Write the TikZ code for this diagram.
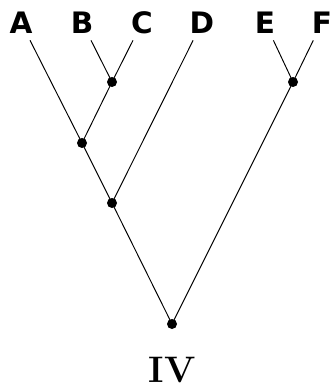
\documentclass[tikz,border=0pt]{standalone}
\usepackage{fontspec}
\newfontfamily\dejavu{DejaVu Sans}
\usepackage{tikz}
\usetikzlibrary{positioning}

\begin{document}
\begin{tikzpicture}[
    taxon/.style={rectangle, inner sep=0pt, minimum height=0.7cm, font=\dejavu\bfseries\fontsize{16.8}{18}\selectfont},
    split/.style={circle, fill=black, inner sep=0pt, minimum size=0.2cm},
    branch/.style={line width=0.55pt},
    tag/.style={font=\bfseries\fontsize{21}{24}\selectfont}
]
    \useasboundingbox (0,0) rectangle (6.62,-7.74);

    \node[taxon] (A) at (0.42,-0.45) {A};
    \node[taxon] (B) at (1.64,-0.45) {B};
    \node[taxon] (C) at (2.84,-0.45) {C};
    \node[taxon] (D) at (4.04,-0.45) {D};
    \node[taxon] (E) at (5.30,-0.45) {E};
    \node[taxon] (F) at (6.44,-0.45) {F};

    \node[split] (bc) at (2.24,-1.64) {};
    \node[split] (ef) at (5.86,-1.64) {};
    \node[split] (abc) at (1.64,-2.86) {};
    \node[split] (abcd) at (2.24,-4.06) {};
    \node[split] (root) at (3.44,-6.48) {};

    \node[tag] (label) at (3.44,-7.41) {IV};

    \draw[branch] (B) -- (bc.center);
    \draw[branch] (C) -- (bc.center);
    \draw[branch] (E) -- (ef.center);
    \draw[branch] (F) -- (ef.center);
    \draw[branch] (A) -- (abc.center);
    \draw[branch] (bc.center) -- (abc.center);
    \draw[branch] (abc.center) -- (abcd.center);
    \draw[branch] (D) -- (abcd.center);
    \draw[branch] (abcd.center) -- (root.center);
    \draw[branch] (ef.center) -- (root.center);
\end{tikzpicture}
\end{document}
